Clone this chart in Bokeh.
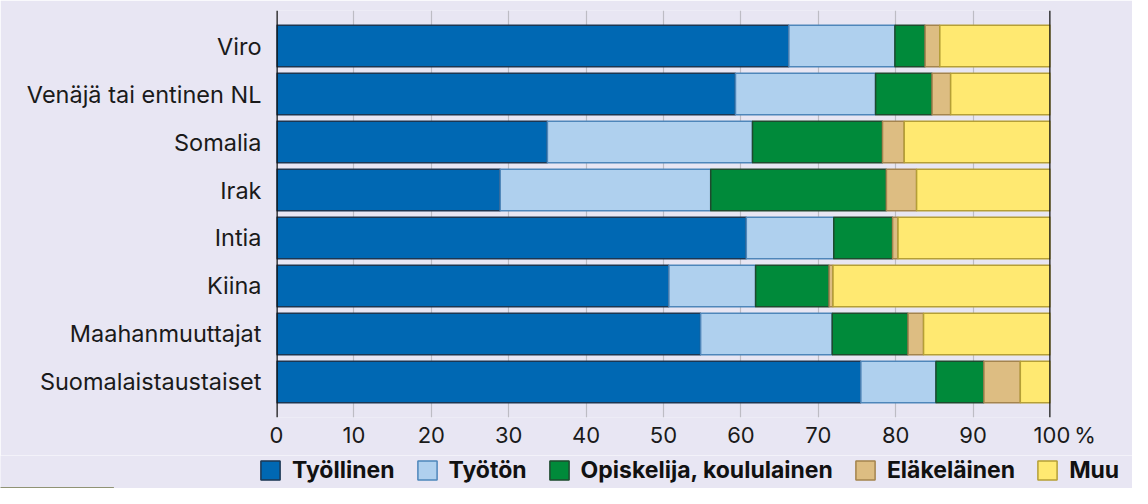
from bokeh.plotting import figure
from bokeh.layouts import column
from bokeh.models import FactorRange, Range1d, Legend, LegendItem, Span, ColumnDataSource, FixedTicker
from bokeh.embed import file_html
from bokeh.resources import INLINE

categories = ["Viro", "Venäjä tai entinen NL", "Somalia", "Irak", "Intia", "Kiina",
              "Maahanmuuttajat", "Suomalaistaustaiset"]
series = ["Työllinen", "Työtön", "Opiskelija, koululainen", "Eläkeläinen", "Muu"]
tyollinen = [66.2, 59.3, 35.0, 28.9, 60.7, 50.7, 54.8, 75.5]
tyoton = [13.7, 18.1, 26.5, 27.2, 11.3, 11.2, 17.0, 9.7]
opiskelija = [3.9, 7.3, 16.8, 22.7, 7.6, 9.5, 9.8, 6.2]
elakelainen = [1.9, 2.4, 2.8, 3.9, 0.7, 0.5, 2.0, 4.7]
muu = [14.3, 12.9, 18.9, 17.3, 19.7, 28.1, 16.4, 3.9]
x_ticks = [0, 10, 20, 30, 40, 50, 60, 70, 80, 90, 100]

fill_colors = ["#0068B3", "#AFD0EE", "#008A3A", "#DDBD82", "#FFE971"]
line_colors = ["#1C3652", "#4E86BA", "#1E4A2E", "#A4844E", "#B59F36"]
BG = "#E8E6F3"
FONT = "Inter"

source = ColumnDataSource(dict(cat=categories, s0=tyollinen, s1=tyoton, s2=opiskelija,
                               s3=elakelainen, s4=muu))
keys = ["s0", "s1", "s2", "s3", "s4"]

p = figure(y_range=FactorRange(*reversed(categories), range_padding=0.24,
                               range_padding_units="absolute"),
           x_range=Range1d(0, 100),
           width=1132, height=455,
           min_border_left=276, min_border_right=82, min_border_top=10, min_border_bottom=38,
           output_backend="svg", toolbar_location=None)
p.frame_align = False
p.background_fill_color = BG
p.border_fill_color = BG
p.outline_line_color = None

rs = p.hbar_stack(keys, y="cat", height=0.867, source=source,
                  fill_color=fill_colors, line_color=line_colors, line_width=1.5)

# axes
p.xaxis.ticker = FixedTicker(ticks=x_ticks)
p.xaxis.major_label_overrides = {100: "\u2007\u2007100\u2009%"}
p.xaxis.axis_line_color = None
p.xaxis.major_tick_line_color = None
p.xaxis.major_tick_out = 0
p.xaxis.major_tick_in = 0
p.xaxis.minor_tick_line_color = None
p.xaxis.major_label_standoff = 4
p.xaxis.major_label_text_font = FONT
p.xaxis.major_label_text_font_size = "22px"
p.xaxis.major_label_text_color = "#1a1a1a"

p.yaxis.axis_line_color = None
p.yaxis.major_tick_line_color = None
p.yaxis.major_tick_out = 0
p.yaxis.major_tick_in = 0
p.yaxis.minor_tick_line_color = None
p.yaxis.major_label_standoff = 15
p.yaxis.major_label_text_font = FONT
p.yaxis.major_label_text_font_size = "23.5px"
p.yaxis.major_label_text_color = "#1a1a1a"

p.ygrid.grid_line_color = None
p.xgrid.grid_line_color = "#BDBCC4"
p.xgrid.grid_line_width = 1.2

for xv in (0, 100):
    p.add_layout(Span(location=xv, dimension="height", line_color="#111111", line_width=2.5))

# legend strip below the chart
lg = figure(width=1132, height=33, x_range=Range1d(0, 1), y_range=Range1d(0, 1),
            min_border=0, output_backend="svg", toolbar_location=None)
lg.frame_align = False
lg.background_fill_color = BG
lg.border_fill_color = BG
lg.outline_line_color = None
lg.axis.visible = False
lg.grid.grid_line_color = None
# legend-key renderers, kept outside the strip's visible range
dummies = [lg.hbar(y=[-5], left=[0], right=[0.1], height=0.5,
                   fill_color=fc, line_color=lc, line_width=1.5)
           for fc, lc in zip(fill_colors, line_colors)]

legend = Legend(items=[LegendItem(label=s, renderers=[r]) for s, r in zip(series, dummies)],
                orientation="horizontal", location=(258, 4))
legend.label_text_font = FONT
legend.label_text_font_style = "bold"
legend.label_text_font_size = "23px"
legend.label_text_color = "#111111"
legend.glyph_width = 24
legend.glyph_height = 24
legend.label_standoff = 10
legend.spacing = 20
legend.padding = 0
legend.margin = 0
legend.border_line_alpha = 0
legend.background_fill_alpha = 0
lg.add_layout(legend, "center")

layout = column(p, lg, spacing=0)
open("out.html", "w").write(file_html(layout, INLINE))
